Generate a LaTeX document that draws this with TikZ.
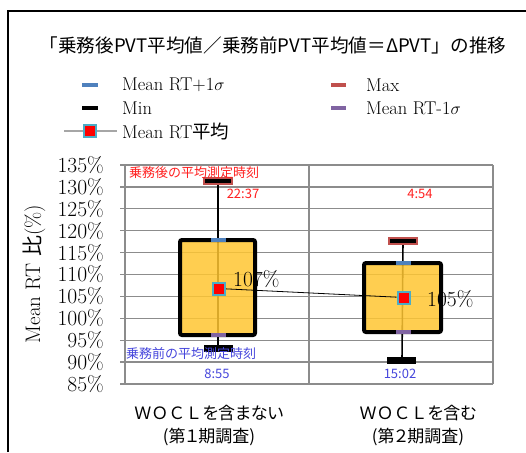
\documentclass[tikz,border=0pt]{standalone}
\usepackage{fontspec}
\newfontfamily\cjk{Noto Sans CJK JP}
\newfontfamily\cjkp[RawFeature=+palt]{Noto Sans CJK JP}
\definecolor{sigup}{HTML}{4F81BD}
\definecolor{maxred}{HTML}{C0504D}
\definecolor{sigdn}{HTML}{8064A2}
\definecolor{teal}{HTML}{4BACC6}
\definecolor{boxy}{HTML}{FFC632}
\definecolor{gridc}{HTML}{8C8C8C}
\definecolor{lblred}{HTML}{FF2020}
\definecolor{lblblue}{HTML}{4646DC}
\tikzset{
  gridln/.style={draw=gridc, line width=1.3pt},
  ylab/.style={anchor=east, inner sep=0pt, font=\fontsize{21.5}{22}\selectfont},
  legtxt/.style={anchor=west, inner sep=0pt, font=\fontsize{18.5}{19}\selectfont},
  legdash/.style={line width=3.5pt},
  boxfill/.style={fill=boxy, fill opacity=0.85, draw=none},
  boxedge/.style={draw=black, line width=4pt, rounded corners=2pt},
  whisk/.style={draw=black, line width=1.6pt},
  meanmk/.style={draw=teal, fill=red, line width=2pt, minimum size=12pt, inner sep=0pt},
  maxmk/.style={draw=maxred, fill=black, line width=1.5pt, minimum width=28pt, minimum height=6pt, inner sep=0pt},
  minmk/.style={draw=none, fill=black, minimum width=29pt, minimum height=7pt, inner sep=0pt},
  supmk/.style={fill=sigup, minimum width=15pt, minimum height=4pt, inner sep=0pt},
  sdnmk/.style={fill=sigdn, minimum width=15pt, minimum height=4pt, inner sep=0pt},
  datlab/.style={anchor=west, inner sep=0pt, font=\fontsize{21.5}{22}\selectfont},
  redlab/.style={inner sep=0pt, text=lblred, font=\cjk\fontsize{13}{13}\selectfont},
  bluelab/.style={inner sep=0pt, text=lblblue, font=\cjk\fontsize{13}{13}\selectfont},
  catlab/.style={inner sep=0pt, font=\fontsize{17}{17}\selectfont}
}
\begin{document}
\begin{tikzpicture}[x=1pt,y=-1pt]
\useasboundingbox (0,0) rectangle (526,452);
\fill[white] (0,0) rectangle (526,452);
% outer frame (cut at right and bottom)
\draw[line width=2pt] (8,452) -- (8,11) -- (526,11);
% title
\node[inner sep=0pt, font=\cjk\fontsize{18.6}{19}\selectfont] (title) at (273,45) {「乗務後PVT平均値／乗務前PVT平均値＝ΔPVT」の推移};
% legend
\draw[legdash, sigup] (82,85) -- (98,85);
\node[legtxt] (lg1) at (122,85) {Mean RT+1$\sigma$};
\draw[legdash, black] (82,108) -- (98,108);
\node[legtxt] (lg2) at (122,108) {Min};
\draw[line width=1.5pt, draw=gray!70] (64,131) -- (117,131);
\node[meanmk] (lgm) at (90,131) {};
\node[legtxt] (lg3) at (122,131) {Mean RT{\cjk 平均}};
\draw[legdash, maxred] (331,85) -- (346,85);
\node[legtxt] (lg4) at (366,85) {Max};
\draw[legdash, sigdn] (331,108) -- (346,108);
\node[legtxt] (lg5) at (366,108) {Mean RT-1$\sigma$};
% y axis title
\node[rotate=90, inner sep=0pt, font=\fontsize{21}{21}\selectfont] (ytitle) at (34,274) {Mean RT {\cjk 比}(\%)};
% gridlines and y labels
\foreach \v in {85,90,...,135}{
  \pgfmathsetmacro\yy{384-(\v-85)*4.38}
  \draw[gridln] (120,\yy) -- (493,\yy);
  \node[ylab] (y\v) at (104,\yy) {\v\%};
}
\draw[gridln] (125,165) -- (125,384);
\draw[gridln] (309,165) -- (309,384);
\draw[gridln] (493,165) -- (493,384);
% whiskers (behind boxes)
\coordinate (w1t) at (218,181);
\coordinate (w1b) at (218,348);
\coordinate (w2t) at (403,241);
\coordinate (w2b) at (402,360);
\draw[whisk] (w1t) -- (w1b);
\draw[whisk] (w2t) -- (w2b);
% box fills
\fill[boxfill] (180,240) rectangle (255,335);
\fill[boxfill] (364,263) rectangle (441,332);
% mean markers and connector
\node[meanmk] (m1) at (218.5,288.5) {};
\node[meanmk] (m2) at (403.5,297.5) {};
\draw[line width=0.8pt] (m1) -- (m2);
% data labels
\node[datlab] (d1) at (233,279) {107\%};
\node[datlab] (d2) at (427,299) {105\%};
% box edges
\draw[boxedge] (180,240) rectangle (255,335);
\draw[boxedge] (364,263) rectangle (441,332);
% sigma markers
\node[supmk] (s1u) at (218,240) {};
\node[sdnmk] (s1d) at (218,335) {};
\node[supmk] (s2u) at (403,263) {};
\node[sdnmk] (s2d) at (403,332) {};
% max/min markers
\node[maxmk] (mx1) at (218,181) {};
\node[maxmk] (mx2) at (403,241) {};
\node[minmk] (mn1) at (218,348) {};
\node[minmk] (mn2) at (401,360) {};
% redraw mean markers on top
\node[meanmk] at (m1) {};
\node[meanmk] at (m2) {};
% time labels
\node[redlab] (rl) at (194,173) {乗務後の平均測定時刻};
\node[redlab] (t1) at (243,194) {22:37};
\node[redlab] (t2) at (420,194) {4:54};
\node[bluelab] (bl) at (191,354) {乗務前の平均測定時刻};
\node[bluelab] (t3) at (217,374) {8:55};
\node[bluelab] (t4) at (400,374) {15:02};
% category labels
\node[catlab] (c1a) at (209,413) {{\cjk ＷＯＣＬ}{\cjkp を含まない}};
\node[catlab] (c1b) at (209,437) {\cjkp (第１期調査)};
\node[catlab] (c2a) at (418,413) {{\cjk ＷＯＣＬ}{\cjkp を含む}};
\node[catlab] (c2b) at (418,437) {\cjkp (第２期調査)};
\end{tikzpicture}
\end{document}
